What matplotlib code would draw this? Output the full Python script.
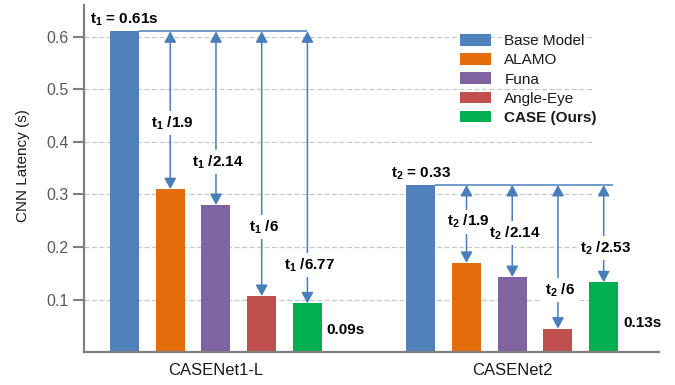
import matplotlib
matplotlib.use("Agg")
import matplotlib.pyplot as plt
import numpy as np

# ---------------- data ----------------
categories = ["CASENet1-L", "CASENet2"]
methods = ["Base Model", "ALAMO", "Funa", "Angle-Eye", "CASE (Ours)"]
latency_casenet1 = [0.61, 0.31, 0.28, 0.107, 0.093]
latency_casenet2 = [0.318, 0.17, 0.143, 0.045, 0.133]
speedups_casenet1 = ["1.9", "2.14", "6", "6.77"]
speedups_casenet2 = ["1.9", "2.14", "6", "2.53"]
base_labels = [r"$\mathrm{t_1}$ = 0.61s", r"$\mathrm{t_2}$ = 0.33"]
case_labels = ["0.09s", "0.13s"]
yticks = [0.1, 0.2, 0.3, 0.4, 0.5, 0.6]

# ---------------- layout / style ----------------
colors = ["#4F81BD", "#E46C0A", "#8064A2", "#C0504D", "#00B050"]
arrow_color = "#4A7EBB"
group_centers = [2.0, 8.48]
bar_width = 0.635
line_extension = [0.0, 0.2]
ratio_label_y = [[0.436, 0.362, 0.238, 0.166], [0.248, 0.227, 0.118, 0.198]]
base_label_y = [0.632, 0.34]
case_label_y = [0.042, 0.056]

plt.rcParams["font.family"] = ["Liberation Sans", "DejaVu Sans"]
plt.rcParams["mathtext.fontset"] = "custom"
plt.rcParams["mathtext.rm"] = "Liberation Sans:bold"
plt.rcParams["mathtext.it"] = "Liberation Sans:bold"
plt.rcParams["mathtext.bf"] = "Liberation Sans:bold"

fig = plt.figure(figsize=(6.75, 3.85), dpi=100)
ax = fig.add_axes([84.3 / 675, 1 - 352.3 / 385, 574.7 / 675, 347.3 / 385])

gray = "#808080"
# grid lines (partial width)
ax.hlines(yticks, 0, 0.885, transform=ax.get_yaxis_transform(),
          colors="#c8c8c8", linestyles=(0, (4, 2)), linewidth=0.9, zorder=0)

all_vals = [latency_casenet1, latency_casenet2]
all_ratios = [speedups_casenet1, speedups_casenet2]
offsets = np.arange(len(methods)) - 2

for g, (gc, vals) in enumerate(zip(group_centers, all_vals)):
    xs = gc + offsets
    for i, (x, v) in enumerate(zip(xs, vals)):
        ax.bar(x, v, width=bar_width, color=colors[i], zorder=2,
               label=methods[i] if g == 0 else None)
    top = vals[0]
    # horizontal reference line
    ax.plot([xs[0] + bar_width / 2, xs[-1] + line_extension[g]], [top, top],
            color=arrow_color, lw=1.1, zorder=3, solid_capstyle="butt")
    for j in range(1, len(methods)):
        ax.annotate("", xy=(xs[j], vals[j]), xytext=(xs[j], top),
                    arrowprops=dict(arrowstyle="<|-|>,head_length=0.55,head_width=0.3",
                                    mutation_scale=12, color=arrow_color, lw=1.1,
                                    shrinkA=0, shrinkB=0), zorder=3)
        sub = "1" if g == 0 else "2"
        label = r"$\mathrm{t_%s}$ /%s" % (sub, all_ratios[g][j - 1])
        # white knock-out box behind the label (below all label texts)
        ax.text(xs[j] + 0.05, ratio_label_y[g][j - 1], label,
                ha="center", va="center", fontsize=11, fontweight="bold",
                color="white", zorder=3.5,
                bbox=dict(boxstyle="square,pad=0.2", fc="white", ec="none"))
        ax.text(xs[j] + 0.05, ratio_label_y[g][j - 1], label,
                ha="center", va="center", fontsize=11, fontweight="bold",
                zorder=5)
    ax.text(xs[0], base_label_y[g], base_labels[g], ha="center", va="center",
            fontsize=11, fontweight="bold", zorder=5)
    ax.text(xs[-1] + 0.42, case_label_y[g], case_labels[g], ha="left",
            va="center", fontsize=11, fontweight="bold", zorder=5)

ax.set_xlim(-0.88, 11.69)
ax.set_ylim(0, 0.66)
ax.set_yticks(yticks)
ax.set_yticklabels([f"{t:.1f}" for t in yticks])
ax.set_xticks(group_centers)
ax.set_xticklabels(categories)

ax.tick_params(axis="y", length=8, width=1.5, color=gray, labelcolor="#595959",
               labelsize=11.5, pad=3.5, direction="out")
ax.tick_params(axis="x", length=0, labelsize=12, pad=8, labelcolor="#1a1a1a")
for s in ["top", "right"]:
    ax.spines[s].set_visible(False)
for s in ["left", "bottom"]:
    ax.spines[s].set_color(gray)
    ax.spines[s].set_linewidth(1.6)

ax.set_ylabel("CNN Latency (s)", fontsize=11, color="#1a1a1a")
ax.yaxis.set_label_coords(-0.095, 0.538)

leg = ax.legend(loc="upper left", bbox_to_anchor=(460 / 675, 1 - 34 / 385),
                bbox_transform=fig.transFigure, frameon=False, fontsize=11,
                handlelength=2.05, handleheight=0.8, handletextpad=0.85,
                labelspacing=0.33, borderpad=0, borderaxespad=0)
for t in leg.get_texts():
    t.set_color("#1a1a1a")
leg.get_texts()[-1].set_fontweight("bold")

fig.savefig("out.png", dpi=100)
